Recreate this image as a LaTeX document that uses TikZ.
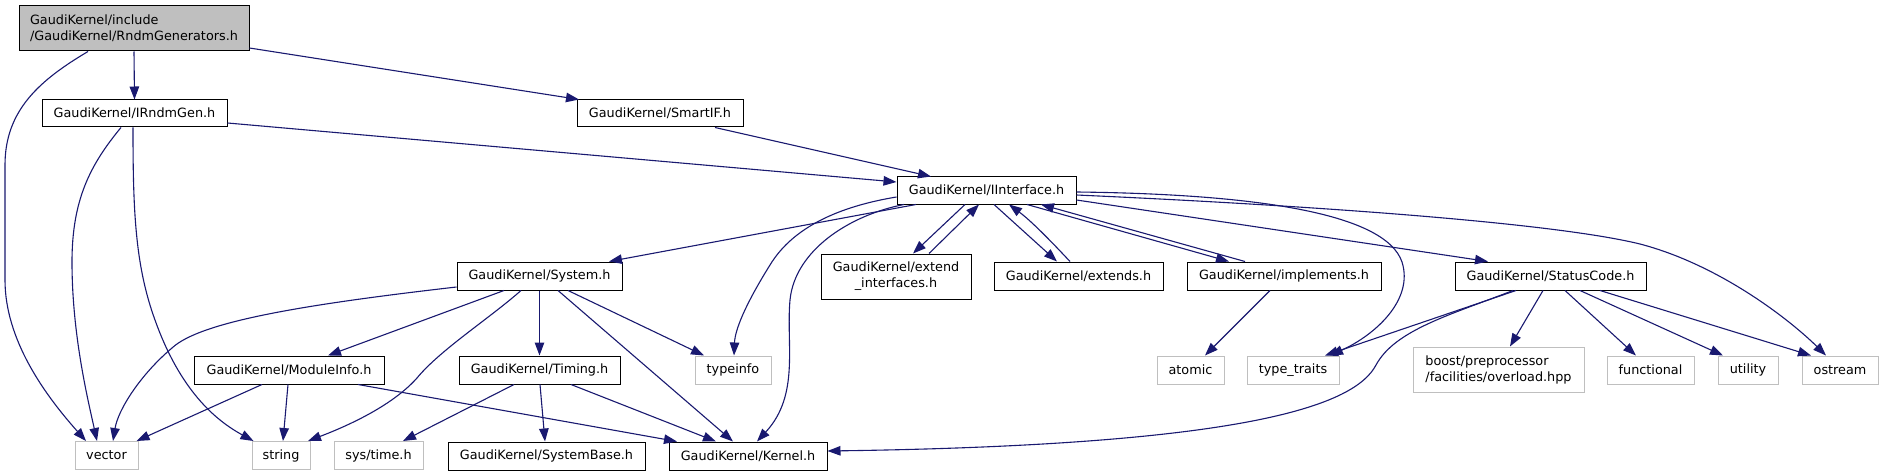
\documentclass[tikz,border=0pt]{standalone}
\usepackage{fontspec}
\setmainfont{DejaVu Sans}
\usetikzlibrary{arrows.meta}
\definecolor{edgec}{HTML}{191970}
\definecolor{greyf}{HTML}{BFBFBF}
\begin{document}
\begin{tikzpicture}[x=1pt,y=-1pt,
  font=\fontsize{12.8}{16}\selectfont,
  box/.style={draw=black, line width=1pt, fill=white, inner sep=0pt, minimum height=28pt},
  sysbox/.style={box, draw=greyf},
  edge/.style={draw=edgec, line width=1.1pt, -{Triangle[length=13pt,width=9.5pt]}}]
\useasboundingbox[fill=white] (0,0) rectangle (1883,476);
% nodes
\node[box, fill=greyf, minimum width=230pt, minimum height=45pt, align=left] (root) at (134,28.5) {GaudiKernel/include\\/GaudiKernel/RndmGenerators.h};
\node[box, minimum width=185pt, minimum height=27pt] (irg) at (134.5,113.5) {GaudiKernel/IRndmGen.h};
\node[box, minimum width=166pt, minimum height=27pt] (smart) at (660,113.5) {GaudiKernel/SmartIF.h};
\node[box, minimum width=179pt, minimum height=27pt] (ii) at (986.5,190.5) {GaudiKernel/IInterface.h};
\node[box, minimum width=165pt] (sys) at (539.5,276) {GaudiKernel/System.h};
\node[box, minimum width=150pt, minimum height=45pt, align=center] (ext) at (896,276.5) {GaudiKernel/extend\\\_interfaces.h};
\node[box, minimum width=169pt] (extends) at (1078.5,276) {GaudiKernel/extends.h};
\node[box, minimum width=194pt] (impl) at (1284,276) {GaudiKernel/implements.h};
\node[box, minimum width=191pt] (sc) at (1550.5,276) {GaudiKernel/StatusCode.h};
\node[box, minimum width=190pt] (mod) at (289,370) {GaudiKernel/ModuleInfo.h};
\node[box, minimum width=161pt] (tim) at (539.5,370) {GaudiKernel/Timing.h};
\node[sysbox, minimum width=76pt] (ti) at (733,370) {typeinfo};
\node[sysbox, minimum width=67pt] (atomic) at (1190.5,370) {atomic};
\node[sysbox, minimum width=92pt] (tt) at (1293,370) {type\_traits};
\node[sysbox, minimum width=171pt, minimum height=45pt, align=left] (boost) at (1498.5,369.5) {boost/preprocessor\\/facilities/overload.hpp};
\node[sysbox, minimum width=87pt] (func) at (1650.5,370) {functional};
\node[sysbox, minimum width=60pt] (util) at (1748,370) {utility};
\node[sysbox, minimum width=76pt] (ost) at (1840,370) {ostream};
\node[sysbox, minimum width=63pt] (vec) at (106.5,455.5) {vector};
\node[sysbox, minimum width=58pt] (str) at (281,455.5) {string};
\node[sysbox, minimum width=89pt] (syst) at (378.5,455.5) {sys/time.h};
\node[box, minimum width=197pt] (sb) at (546.5,456) {GaudiKernel/SystemBase.h};
\node[box, minimum width=158pt] (kern) at (748,456) {GaudiKernel/Kernel.h};
% edges
\draw[edge] (root.south) -- (irg.north);
\draw[edge] ([yshift=-19.5pt]root.east) -- ([xshift=-81pt]smart.north);
\draw[edge] ([xshift=-46pt]root.south) .. controls (40,80) and (5,110) .. (5,165) -- (5,280) .. controls (5,340) and (45,395) .. ([xshift=-20.5pt]vec.north);
\draw[edge] ([xshift=-13.5pt]irg.south) .. controls (90,165) and (72,200) .. (72,262) .. controls (72,335) and (88,400) .. ([xshift=-9.5pt]vec.north);
\draw[edge] ([xshift=-1.5pt]irg.south) .. controls (133,210) and (135,265) .. (155,320) .. controls (180,390) and (215,420) .. ([xshift=2pt]str.north west);
\draw[edge] ([yshift=-9.5pt]irg.east) -- ([yshift=8.5pt]ii.west);
\draw[edge] ([xshift=55pt]smart.south) -- ([xshift=-55.5pt]ii.north);
\draw[edge] ([xshift=-70.5pt]ii.south) -- ([xshift=69.5pt]sys.north);
\draw[edge] ([yshift=-6.5pt]ii.west) .. controls (830,208) and (790,232) .. (770,265) .. controls (745,305) and (735,330) .. ([xshift=1pt]ti.north);
\draw[edge] ([xshift=-82.5pt]ii.south) .. controls (850,215) and (795,250) .. (790,300) .. controls (786,345) and (800,395) .. ([xshift=9pt]kern.north);
\draw[edge] ([xshift=-21.5pt]ii.south) -- ([xshift=17pt]ext.north);
\draw[edge] ([xshift=33pt]ext.north) -- ([xshift=-7.5pt]ii.south);
\draw[edge] ([xshift=7.5pt]ii.south) -- ([xshift=-21.5pt]extends.north);
\draw[edge] ([xshift=-8.5pt]extends.north) .. controls (1048,238) and (1030,220) .. ([xshift=22.5pt]ii.south);
\draw[edge] ([xshift=40.5pt]ii.south) -- ([xshift=-55pt]impl.north);
\draw[edge] ([xshift=-39pt]impl.north) -- ([xshift=54.5pt]ii.south);
\draw[edge] ([yshift=-9.5pt]ii.east) -- ([xshift=-62.5pt]sc.north);
\draw[edge] ([yshift=-1.5pt]ii.east) .. controls (1250,194) and (1385,212) .. (1402,262) .. controls (1414,300) and (1375,335) .. ([xshift=37pt]tt.north);
\draw[edge] ([yshift=-4.5pt]ii.east) .. controls (1300,205) and (1550,222) .. (1640,244) .. controls (1720,265) and (1790,320) .. ([xshift=-14pt]ost.north);
\draw[edge] ([yshift=-11pt]sys.west) .. controls (300,305) and (200,322) .. (172,348) .. controls (140,375) and (118,410) .. ([xshift=6.5pt]vec.north);
\draw[edge] ([xshift=-35.5pt]sys.south) -- ([xshift=39pt]mod.north);
\draw[edge] ([xshift=-18.5pt]sys.south) .. controls (490,318) and (440,350) .. (417,378) .. controls (393,405) and (350,425) .. ([xshift=27pt]str.north);
\draw[edge] (sys.south) -- (tim.north);
\draw[edge] ([xshift=18.5pt]sys.south) -- ([xshift=-15pt]kern.north);
\draw[edge] ([xshift=28.5pt]sys.south) -- ([xshift=-29pt]ti.north);
\draw[edge] ([xshift=-27pt]mod.south) -- ([xshift=30pt]vec.north);
\draw[edge] ([xshift=-1pt]mod.south) -- ([xshift=2pt]str.north);
\draw[edge] ([xshift=69pt]mod.south) -- ([xshift=-71pt]kern.north);
\draw[edge] ([xshift=-25.5pt]tim.south) -- ([xshift=24.5pt]syst.north);
\draw[edge] ([xshift=0.5pt]tim.south) -- ([xshift=-1.5pt]sb.north);
\draw[edge] ([xshift=31.5pt]tim.south) -- ([xshift=-32pt]kern.north);
\draw[edge] ([xshift=-14pt]impl.south) -- ([xshift=14.5pt]atomic.north);
\draw[edge] ([xshift=-34.5pt]sc.south) -- ([xshift=32pt]tt.north);
\draw[edge] ([xshift=-37.5pt]sc.south) .. controls (1450,315) and (1395,330) .. (1376,365) .. controls (1355,405) and (1250,445) .. ([yshift=5pt]kern.east);
\draw[edge] ([xshift=-7.5pt]sc.south) -- ([xshift=11.5pt]boost.north);
\draw[edge] ([xshift=14.5pt]sc.south) -- ([xshift=-14.5pt]func.north);
\draw[edge] ([xshift=29.5pt]sc.south) -- ([xshift=-25pt]util.north);
\draw[edge] ([xshift=49.5pt]sc.south) -- ([xshift=-29pt]ost.north);
\end{tikzpicture}
\end{document}
